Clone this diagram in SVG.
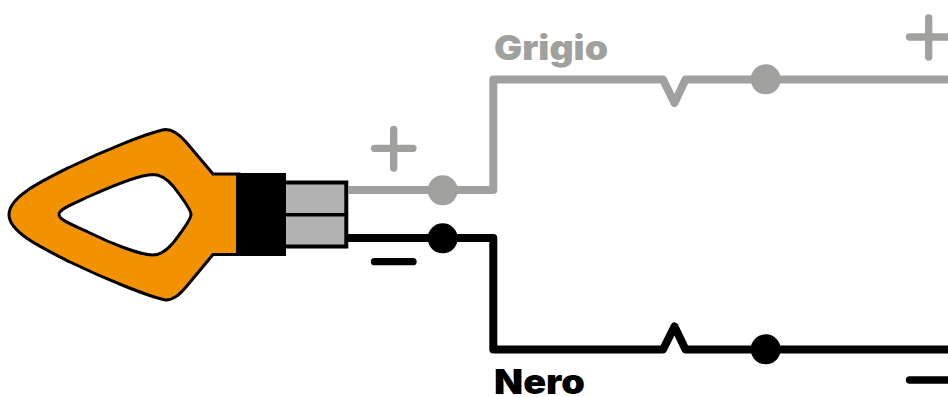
<svg xmlns="http://www.w3.org/2000/svg" width="948" height="397" viewBox="0 0 948 397">
<style>
.w{fill:none;stroke-width:8;stroke-linejoin:round;stroke-linecap:butt}
.s{fill:none;stroke-width:7.300;stroke-linecap:round}
.g{stroke:#a0a09f}.k{stroke:#000}
.df{fill:#a0a09f}.kf{fill:#000}
.t{font-family:"Inter","Liberation Sans",sans-serif;font-weight:900;font-size:34px}
</style>
<g id="indicator">
<path fill="#f39200" fill-rule="evenodd" stroke="#000" stroke-width="3" stroke-linejoin="round" d="M165.500 129.500C174 129.500 180 135 186 142L213 174H240V254.500H213L186 287C180 294 174 300 165.500 300C150 297 105 279 70 262C40 247 9 232 9 214.500C9 197 40 182 70 167C105 150 150 132 165.500 129.500ZM153 174.500C140 175 110 187 90 196C73 204 59 209 59 214.500C59 220 73 225 90 233C110 243 140 255 153 255C161 255 167 250 173 243C180 234 191 220 191 214.500C191 209 180 195 173 186C167 179 161 174.500 153 174.500Z"/>
</g>
<g id="connector-body">
<rect x="236" y="173" width="50" height="83" fill="#000"/>
<rect x="284" y="182.500" width="62.300" height="64" fill="#b2b2b2" stroke="#000" stroke-width="4"/>
<path d="M284 214.700H346" stroke="#000" stroke-width="3.500" fill="none"/>
</g>
<g id="connectors">
<path class="w g" d="M348 190H493.300V79.500H663L674.500 103L685.500 79.500H948"/>
<path class="w k" d="M348 238H493.300V349.500H663L674.500 326.500L685.500 349.500H948"/>
</g>
<g id="node-grey-1"><circle class="df" cx="442.700" cy="190.300" r="15"/></g>
<g id="node-grey-2"><circle class="df" cx="765.700" cy="79.300" r="15"/></g>
<g id="node-black-1"><circle class="kf" cx="442.700" cy="238.300" r="15"/></g>
<g id="node-black-2"><circle class="kf" cx="765.700" cy="349.300" r="15"/></g>
<g id="signs">
<path class="s g" d="M374.500 148.300H413M393.700 129.500V168"/>
<path class="s k" d="M374.500 261.700H413"/>
<path class="s g" d="M909.500 37H952M928.700 18V57"/>
<path class="s k" d="M909.500 380H952"/>
</g>
<g id="labels">
<text class="t" x="494" y="60" fill="#a0a09f" textLength="114" lengthAdjust="spacingAndGlyphs">Grigio</text>
<text class="t" x="494" y="393.500" fill="#000" textLength="91" lengthAdjust="spacingAndGlyphs">Nero</text>
</g>
</svg>
